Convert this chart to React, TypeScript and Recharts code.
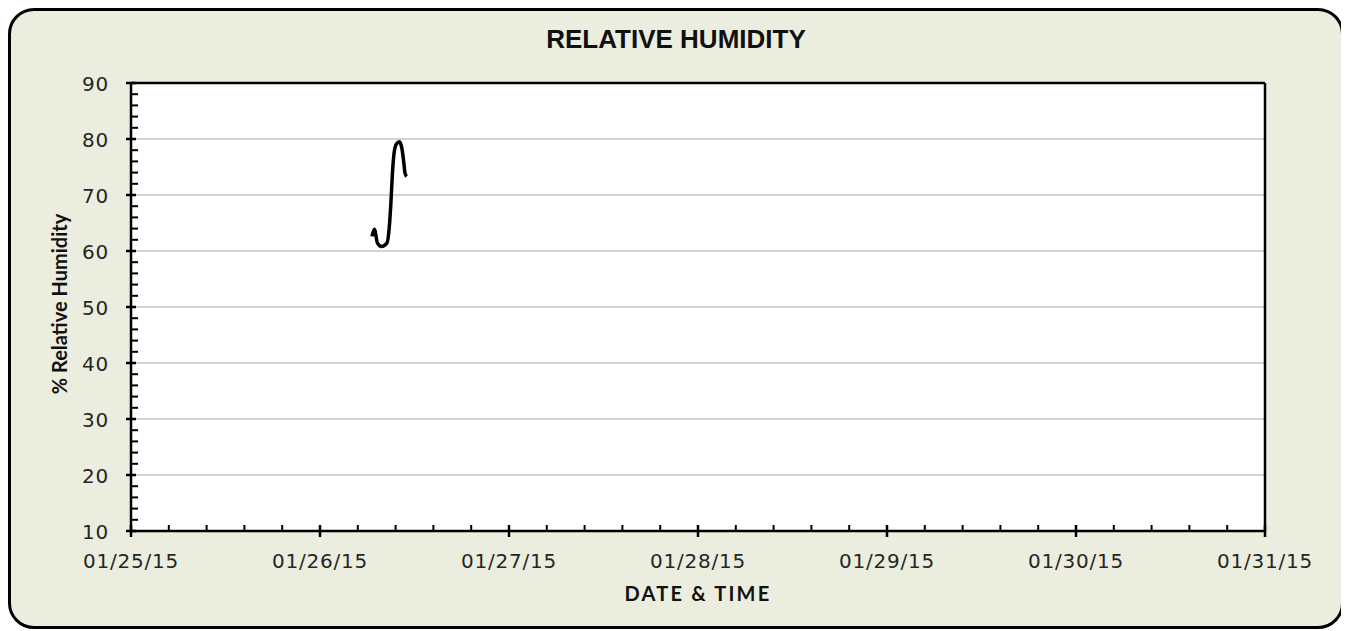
import { LineChart, Line, XAxis, YAxis, CartesianGrid, ReferenceLine } from "recharts";

// hours since 01/25/15 00:00
const hours = [30.6, 30.9, 31.3, 31.8, 32.5, 32.8, 33.0, 33.2, 33.4, 33.7, 34.1, 34.4, 34.6, 34.8, 35.0];
const humidity = [62.6, 63.9, 61.4, 60.8, 61.4, 64.3, 68.5, 73.9, 77.4, 79.1, 79.5, 78.3, 76.3, 73.9, 73.3];

const dayTicks = [0, 24, 48, 72, 96, 120, 144];
const dayLabels = ["01/25/15", "01/26/15", "01/27/15", "01/28/15", "01/29/15", "01/30/15", "01/31/15"];
const minorHours = [4.8, 9.6, 14.4, 19.2];

const yMajor = [10, 20, 30, 40, 50, 60, 70, 80, 90];
const yMinor = [2, 4, 6, 8];
const gridValues = [20, 30, 40, 50, 60, 70, 80];

const data = hours.map((t, i) => ({ t, rh: humidity[i] }));

const xTicks = dayTicks.flatMap((d, i) => (i < dayTicks.length - 1 ? [d, ...minorHours.map((m) => d + m)] : [d]));
const yTicks = yMajor.flatMap((v, i) => (i < yMajor.length - 1 ? [v, ...yMinor.map((m) => v + m)] : [v]));

const tickFont = { fontFamily: "DejaVu Sans", fontSize: 20, letterSpacing: 0.8, fill: "#262626" };

const XTick = (props: any) => {
  const { x, y, payload } = props;
  const i = dayTicks.indexOf(payload.value);
  if (i < 0) return <line x1={x} x2={x} y1={y} y2={y - 6} stroke="#000" strokeWidth={2} />;
  return (
    <g>
      <line x1={x} x2={x} y1={y - 6} y2={y + 6} stroke="#000" strokeWidth={2.5} />
      <text x={x} y={y + 37} textAnchor="middle" {...tickFont}>
        {dayLabels[i]}
      </text>
    </g>
  );
};

const YTick = (props: any) => {
  const { x, y, payload } = props;
  if (payload.value % 10 !== 0) return <line x1={x} x2={x + 7} y1={y} y2={y} stroke="#000" strokeWidth={2} />;
  return (
    <g>
      <line x1={x - 5} x2={x + 5} y1={y} y2={y} stroke="#000" strokeWidth={2.5} />
      <text x={x - 22} y={y + 7.5} textAnchor="end" {...tickFont}>
        {payload.value}
      </text>
    </g>
  );
};

const titleFont = { fontFamily: "Lato", fontWeight: 700, fill: "#111" };

export default function App() {
  return (
    <div
      style={{
        position: "relative",
        width: 1336,
        height: 621,
        boxSizing: "border-box",
        border: "3px solid #000",
        borderRadius: 26,
        background: "#EBEEDF",
      }}
    >
      <div
        style={{
          position: "absolute",
          top: 13,
          left: 0,
          right: 0,
          textAlign: "center",
          fontFamily: "Liberation Sans",
          fontWeight: 700,
          fontSize: 26,
          lineHeight: "30px",
          color: "#111",
        }}
      >
        RELATIVE HUMIDITY
      </div>
      <LineChart width={1330} height={614} data={data} margin={{ top: 72, right: 76, bottom: 0, left: 0 }}>
        <CartesianGrid horizontal={false} vertical={false} fill="#fff" />
        {gridValues.map((v) => (
          <ReferenceLine key={v} y={v} stroke="#A6A6A6" strokeWidth={1} />
        ))}
        <ReferenceLine y={90} stroke="#000" strokeWidth={2.5} />
        <ReferenceLine x={144} stroke="#000" strokeWidth={2.5} />
        <XAxis
          type="number"
          dataKey="t"
          domain={[0, 144]}
          ticks={xTicks}
          interval={0}
          height={94}
          tickSize={0}
          tickMargin={0}
          tickLine={false}
          axisLine={{ stroke: "#000", strokeWidth: 2.5 }}
          tick={<XTick />}
          label={(p: any) => (
            <text
              x={p.viewBox.x + p.viewBox.width / 2}
              y={p.viewBox.y + 70}
              textAnchor="middle"
              fontSize={20}
              letterSpacing={2.2}
              {...titleFont}
            >
              DATE &amp; TIME
            </text>
          )}
        />
        <YAxis
          type="number"
          domain={[10, 90]}
          ticks={yTicks}
          interval={0}
          width={120}
          tickSize={0}
          tickMargin={0}
          tickLine={false}
          axisLine={{ stroke: "#000", strokeWidth: 2.5 }}
          tick={<YTick />}
          label={(p: any) => {
            const cx = p.viewBox.x + 56;
            const cy = p.viewBox.y + p.viewBox.height / 2 - 3;
            return (
              <text x={cx} y={cy} transform={`rotate(-90 ${cx} ${cy})`} textAnchor="middle" fontSize={20} {...titleFont}>
                % Relative Humidity
              </text>
            );
          }}
        />
        <Line type="monotone" dataKey="rh" stroke="#000" strokeWidth={3.5} dot={false} isAnimationActive={false} />
      </LineChart>
    </div>
  );
}
